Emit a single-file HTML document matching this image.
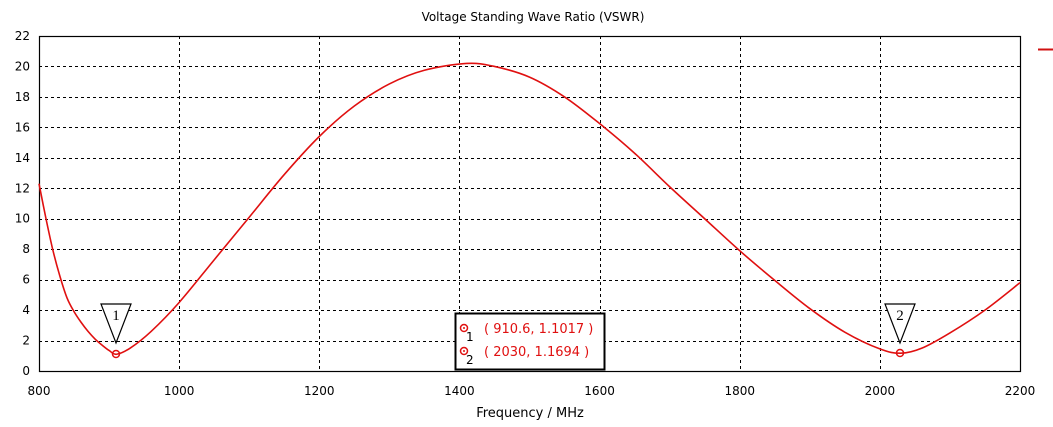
<!DOCTYPE html>
<html><head><style>
body{margin:0;background:#fff;}
svg text{font-family:"DejaVu Sans","Liberation Sans",sans-serif;}
</style></head><body>
<svg id="s" width="1053" height="422" xmlns="http://www.w3.org/2000/svg">
<text x="533" y="21" font-size="12" text-anchor="middle" fill="#000">Voltage Standing Wave Ratio (VSWR)</text>
<g id="grid" stroke="#000" stroke-width="1" stroke-dasharray="3,3"></g>
<rect x="39.5" y="36.5" width="981" height="335" fill="none" stroke="#000" stroke-width="1.2"/>
<g id="lab" font-size="12" fill="#000"></g>
<text x="530" y="417" font-size="13" text-anchor="middle">Frequency / MHz</text>
<line x1="1038" y1="49.5" x2="1053" y2="49.5" stroke="#d01010" stroke-width="2"/>
<path id="curve" fill="none" stroke="#e01010" stroke-width="1.6"/>
<g fill="#fff" stroke="#000" stroke-width="1.2">
<polygon points="101,304 131,304 116,343"/>
<polygon points="885,304 915,304 900,343"/>
</g>
<text x="116" y="320" font-size="15" text-anchor="middle" style="font-family:'Liberation Serif',serif">1</text>
<text x="900" y="320" font-size="15" text-anchor="middle" style="font-family:'Liberation Serif',serif">2</text>
<g fill="none" stroke="#e01010" stroke-width="1.5">
<circle cx="116" cy="354" r="3.5"/><circle cx="900" cy="353" r="3.5"/>
</g>
<rect x="455.5" y="313.5" width="149" height="56" fill="#fff" stroke="#000" stroke-width="2"/>
<circle cx="464" cy="328" r="3.5" fill="none" stroke="#e01010" stroke-width="1.5"/>
<circle cx="464" cy="351" r="3.5" fill="none" stroke="#e01010" stroke-width="1.5"/>
<circle cx="464" cy="328" r="1" fill="#e01010"/><circle cx="464" cy="351" r="1" fill="#e01010"/>
<text x="466" y="341" font-size="12">1</text>
<text x="466" y="364" font-size="12">2</text>
<text x="484" y="333" font-size="13" fill="#e01010">( 910.6, 1.1017 )</text>
<text x="484" y="356" font-size="13" fill="#e01010">( 2030, 1.1694 )</text>
</svg>
<script>
var X=f=>39+(f-800)*981/1400, Y=v=>371-v*335/22;
var g=document.getElementById('grid'),l=document.getElementById('lab'),h='',t='';
for(var v=0;v<=22;v+=2){var y=Y(v);if(v>0&&v<22)h+='<line x1="39" x2="1020" y1="'+(Math.round(y)+.5)+'" y2="'+(Math.round(y)+.5)+'"/>';
t+='<text x="30" y="'+(y+4)+'" text-anchor="end">'+v+'</text>';}
for(var f=800;f<=2200;f+=200){var x=X(f);if(f>800&&f<2200)h+='<line y1="36" y2="371" x1="'+(Math.round(x)+.5)+'" x2="'+(Math.round(x)+.5)+'"/>';
t+='<text x="'+x+'" y="395" text-anchor="middle">'+f+'</text>';}
g.innerHTML=h;l.innerHTML=t;
var d=[[800,12.3],[810,10.0],[820,7.9],[830,6.2],[840,4.8],[850,3.9],[860,3.2],[870,2.6],[880,2.1],[890,1.7],[900,1.35],[910.6,1.1],[930,1.5],[960,2.6],[1000,4.5],[1050,7.3],[1100,10.1],[1150,12.9],[1200,15.4],[1250,17.4],[1300,18.85],[1350,19.75],[1410,20.2],[1450,20.0],[1500,19.3],[1550,18.0],[1600,16.25],[1650,14.3],[1700,12.1],[1750,10.0],[1800,7.9],[1850,5.95],[1900,4.1],[1950,2.55],[2000,1.45],[2030,1.17],[2060,1.5],[2100,2.5],[2150,4.0],[2200,5.8]];
var p=d.map(a=>[X(a[0]),Y(a[1])]);var s='M'+p[0][0]+','+p[0][1];
for(var i=0;i<p.length-1;i++){var p0=p[i-1]||p[i],p1=p[i],p2=p[i+1],p3=p[i+2]||p2;
s+=' C'+(p1[0]+(p2[0]-p0[0])/6)+','+(p1[1]+(p2[1]-p0[1])/6)+' '+(p2[0]-(p3[0]-p1[0])/6)+','+(p2[1]-(p3[1]-p1[1])/6)+' '+p2[0]+','+p2[1];}
document.getElementById('curve').setAttribute('d',s);
</script>
</body></html>
